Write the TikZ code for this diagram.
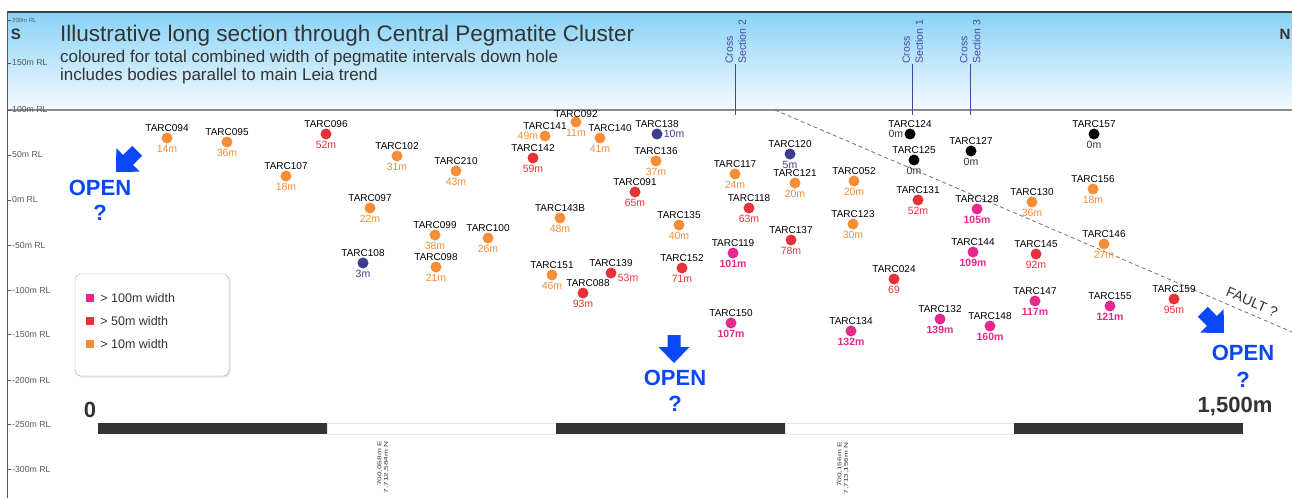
\documentclass[tikz,border=0pt]{standalone}
\usepackage{fontspec}
\setmainfont{Liberation Sans}
\usetikzlibrary{positioning,shadows}

\definecolor{orng}{RGB}{245,142,55}
\definecolor{rd}{RGB}{232,50,58}
\definecolor{pnk}{RGB}{230,40,140}
\definecolor{blu}{RGB}{60,60,145}
\definecolor{csblue}{RGB}{70,70,165}
\definecolor{openblue}{RGB}{10,70,250}
\definecolor{darkgr}{RGB}{51,51,51}
\definecolor{skytop}{RGB}{136,210,246}
\definecolor{skybot}{RGB}{246,251,255}

\begin{document}
\begin{tikzpicture}[x=1pt, y=-1pt,
    hole/.style={circle, minimum size=11pt, inner sep=0pt},
    every label/.style={inner sep=1pt, font=\fontsize{10}{12}\selectfont},
    vo/.style={text=orng, font=\fontsize{10.5}{12}\selectfont},
    vr/.style={text=rd, font=\fontsize{10.5}{12}\selectfont},
    vp/.style={text=pnk, font=\fontsize{10.5}{12}\selectfont\bfseries},
    vb/.style={text=blu, font=\fontsize{10.5}{12}\selectfont},
    vk/.style={text=darkgr, font=\fontsize{10.5}{12}\selectfont},
    rl/.style={anchor=west, inner sep=1pt, font=\fontsize{8.7}{10}\selectfont},
    cslbl/.style={rotate=90, anchor=west, align=left, inner sep=0pt, text=csblue, font=\fontsize{10.5}{13}\selectfont},
    opentxt/.style={text=openblue, font=\fontsize{22}{24}\selectfont\bfseries},
    bigtxt/.style={text=darkgr, font=\fontsize{22}{24}\selectfont\bfseries},
    key/.style={anchor=west, inner sep=0pt, text=darkgr, font=\fontsize{12.5}{14}\selectfont},
    gridref/.style={rotate=90, xscale=1.5, anchor=east, align=right, inner sep=0pt, text=darkgr, font=\fontsize{5.5}{6.5}\selectfont}]

    \useasboundingbox[fill=white] (0,0) rectangle (1292,498);

    % sky and frame
    \shade[top color=skytop, bottom color=skybot] (7,12) rectangle (1292,110);
    \draw[black!45, line width=1.5pt] (7,110) -- (1292,110);
    \draw[black!75, line width=1.3pt] (7,12) -- (1292,12);
    \draw[black!65, line width=1pt] (7,12) -- (7,498);

    % RL ticks
    \draw[black!65] (7,20) -- ++(4,0) node[rl, font=\fontsize{6}{7}\selectfont] (rl200) {200m RL};
    \draw[black!65] (7,63) -- ++(4,0) node[rl] (rl150) {150m RL};
    \draw[black!65] (7,110) -- ++(4,0) node[rl] (rl100) {100m RL};
    \draw[black!65] (7,155) -- ++(4,0) node[rl] (rl50) {50m RL};
    \draw[black!65] (7,200) -- ++(4,0) node[rl] (rl0) {0m RL};
    \draw[black!65] (7,245) -- ++(4,0) node[rl] (rlm50) {-50m RL};
    \draw[black!65] (7,290) -- ++(4,0) node[rl] (rlm100) {-100m RL};
    \draw[black!65] (7,334) -- ++(4,0) node[rl] (rlm150) {-150m RL};
    \draw[black!65] (7,380) -- ++(4,0) node[rl] (rlm200) {-200m RL};
    \draw[black!65] (7,424) -- ++(4,0) node[rl] (rlm250) {-250m RL};
    \draw[black!65] (7,469) -- ++(4,0) node[rl] (rlm300) {-300m RL};

    % titles
    \node[text=darkgr, font=\fontsize{15}{16}\selectfont\bfseries] (south) at (16,34) {S};
    \node[text=darkgr, font=\fontsize{15}{16}\selectfont\bfseries] (north) at (1285,34) {N};
    \node[anchor=base west, inner sep=0pt, text=darkgr, font=\fontsize{22.5}{24}\selectfont] (title) at (60,41) {Illustrative long section through Central Pegmatite Cluster};
    \node[anchor=base west, inner sep=0pt, text=darkgr, font=\fontsize{17}{18}\selectfont] (sub1) at (60,62) {coloured for total combined width of pegmatite intervals down hole};
    \node[anchor=base west, inner sep=0pt, text=darkgr, font=\fontsize{17}{18}\selectfont] (sub2) at (60,80) {includes bodies parallel to main Leia trend};

    % cross sections
    \node[cslbl] (cs2) at (735.7,64) {Cross\\Section 2};
    \node[cslbl] (cs1) at (912.7,64) {Cross\\Section 1};
    \node[cslbl] (cs3) at (970.3,64) {Cross\\Section 3};
    \coordinate (cs2b) at (735.7,115);
    \coordinate (cs1b) at (912.7,115);
    \coordinate (cs3b) at (970.3,115);
    \draw[csblue, line width=1.2pt] (cs2.west) -- (cs2b);
    \draw[csblue, line width=1.2pt] (cs1.west) -- (cs1b);
    \draw[csblue, line width=1.2pt] (cs3.west) -- (cs3b);

    % fault
    \draw[black!55, line width=0.8pt, dash pattern=on 4pt off 3pt] (775,110) -- (1292,332);
    \node[rotate=-23.2, text=darkgr, font=\fontsize{14}{16}\selectfont] (fault) at (1252,302) {FAULT ?};

    % > 10m
    \node[hole, fill=orng, label=above:TARC094, label={[vo]below:14m}] (t094) at (167,138) {};
    \node[hole, fill=orng, label=above:TARC095, label={[vo]below:36m}] (t095) at (227,142) {};
    \node[hole, fill=orng, label=above:TARC102, label={[vo]below:31m}] (t102) at (397,156) {};
    \node[hole, fill=orng, label=above:TARC107, label={[vo]below:18m}] (t107) at (286,176) {};
    \node[hole, fill=orng, label=above:TARC097, label={[vo]below:22m}] (t097) at (370,208) {};
    \node[hole, fill=orng, label=above:TARC210, label={[vo]below:43m}] (t210) at (456,171) {};
    \node[hole, fill=orng, label=above:TARC099, label={[vo]below:38m}] (t099) at (435,235) {};
    \node[hole, fill=orng, label=above:TARC098, label={[vo]below:21m}] (t098) at (436,267) {};
    \node[hole, fill=orng, label=above:TARC100, label={[vo]below:26m}] (t100) at (488,238) {};
    \node[hole, fill=orng, label=above:TARC141, label={[vo]left:49m}] (t141) at (545,136) {};
    \node[hole, fill=orng, label={[label distance=-2pt]above:TARC092}, label={[vo]below:11m}] (t092) at (576,122) {};
    \node[hole, fill=orng, label={[xshift=10pt]above:TARC140}, label={[vo]below:41m}] (t140) at (600,138) {};
    \node[hole, fill=orng, label=above:TARC136, label={[vo]below:37m}] (t136) at (656,161) {};
    \node[hole, fill=orng, label=above:TARC143B, label={[vo]below:48m}] (t143b) at (560,218) {};
    \node[hole, fill=orng, label=above:TARC151, label={[vo]below:46m}] (t151) at (552,275) {};
    \node[hole, fill=orng, label=above:TARC135, label={[vo]below:40m}] (t135) at (679,225) {};
    \node[hole, fill=orng, label=above:TARC117, label={[vo]below:24m}] (t117) at (735,174) {};
    \node[hole, fill=orng, label=above:TARC121, label={[vo]below:20m}] (t121) at (795,183) {};
    \node[hole, fill=orng, label=above:TARC052, label={[vo]below:20m}] (t052) at (854,181) {};
    \node[hole, fill=orng, label=above:TARC123, label={[vo]below:30m}] (t123) at (853,224) {};
    \node[hole, fill=orng, label=above:TARC130, label={[vo]below:36m}] (t130) at (1032,202) {};
    \node[hole, fill=orng, label=above:TARC156, label={[vo]below:18m}] (t156) at (1093,189) {};
    \node[hole, fill=orng, label=above:TARC146, label={[vo]below:27m}] (t146) at (1104,244) {};

    % > 50m
    \node[hole, fill=rd, label=above:TARC096, label={[vr]below:52m}] (t096) at (326,134) {};
    \node[hole, fill=rd, label=above:TARC142, label={[vr]below:59m}] (t142) at (533,158) {};
    \node[hole, fill=rd, label=above:TARC091, label={[vr]below:65m}] (t091) at (635,192) {};
    \node[hole, fill=rd, label=above:TARC118, label={[vr]below:63m}] (t118) at (749,208) {};
    \node[hole, fill=rd, label=above:TARC139, label={[vr, yshift=-5pt]right:53m}] (t139) at (611,273) {};
    \node[hole, fill=rd, label={[xshift=5pt]above:TARC088}, label={[vr]below:93m}] (t088) at (583,293) {};
    \node[hole, fill=rd, label=above:TARC152, label={[vr]below:71m}] (t152) at (682,268) {};
    \node[hole, fill=rd, label=above:TARC137, label={[vr]below:78m}] (t137) at (791,240) {};
    \node[hole, fill=rd, label=above:TARC131, label={[vr]below:52m}] (t131) at (918,200) {};
    \node[hole, fill=rd, label=above:TARC024, label={[vr]below:69}] (t024) at (894,279) {};
    \node[hole, fill=rd, label=above:TARC145, label={[vr]below:92m}] (t145) at (1036,254) {};
    \node[hole, fill=rd, label=above:TARC159, label={[vr]below:95m}] (t159) at (1174,299) {};

    % > 100m
    \node[hole, fill=pnk, label=above:TARC119, label={[vp]below:101m}] (t119) at (733,253) {};
    \node[hole, fill=pnk, label=above:TARC150, label={[vp]below:107m}] (t150) at (731,323) {};
    \node[hole, fill=pnk, label=above:TARC134, label={[vp]below:132m}] (t134) at (851,331) {};
    \node[hole, fill=pnk, label=above:TARC132, label={[vp]below:139m}] (t132) at (940,319) {};
    \node[hole, fill=pnk, label=above:TARC148, label={[vp]below:160m}] (t148) at (990,326) {};
    \node[hole, fill=pnk, label=above:TARC128, label={[vp]below:105m}] (t128) at (977,209) {};
    \node[hole, fill=pnk, label=above:TARC144, label={[vp]below:109m}] (t144) at (973,252) {};
    \node[hole, fill=pnk, label=above:TARC147, label={[vp]below:117m}] (t147) at (1035,301) {};
    \node[hole, fill=pnk, label=above:TARC155, label={[vp]below:121m}] (t155) at (1110,306) {};

    % small / none
    \node[hole, fill=blu, label=above:TARC108, label={[vb]below:3m}] (t108) at (363,263) {};
    \node[hole, fill=blu, label=above:TARC138, label={[vb]right:10m}] (t138) at (657,134) {};
    \node[hole, fill=blu, label=above:TARC120, label={[vb]below:5m}] (t120) at (790,154) {};
    \node[hole, fill=black, label=above:TARC124, label={[vk]left:0m}] (t124) at (910,134) {};
    \node[hole, fill=black, label=above:TARC125, label={[vk]below:0m}] (t125) at (914,160) {};
    \node[hole, fill=black, label=above:TARC127, label={[vk]below:0m}] (t127) at (971,151) {};
    \node[hole, fill=black, label=above:TARC157, label={[vk]below:0m}] (t157) at (1094,134) {};

    % open arrows
    \begin{scope}[shift={(116,172)}, rotate=-45]
    \fill[openblue] (0,0) -- (-16.5,-17) -- (-7,-17) -- (-7,-30) -- (7,-30) -- (7,-17) -- (16.5,-17) -- cycle;
    \end{scope}
    \begin{scope}[shift={(674,363)}]
    \fill[openblue] (0,0) -- (-15.5,-16) -- (-6.5,-16) -- (-6.5,-28) -- (6.5,-28) -- (6.5,-16) -- (15.5,-16) -- cycle;
    \end{scope}
    \begin{scope}[shift={(1224,333)}, rotate=45]
    \fill[openblue] (0,0) -- (-16.5,-17) -- (-7,-17) -- (-7,-30) -- (7,-30) -- (7,-17) -- (16.5,-17) -- cycle;
    \end{scope}

    \node[opentxt] (open1) at (100,188) {OPEN};
    \node[opentxt] (q1) at (100,213) {?};
    \node[opentxt] (open2) at (675,378) {OPEN};
    \node[opentxt] (q2) at (675,404) {?};
    \node[opentxt] (open3) at (1243,353) {OPEN};
    \node[opentxt] (q3) at (1243,380) {?};

    % legend
    \node[draw=black!35, fill=white, rounded corners=6pt, minimum width=154pt, minimum height=102pt,
          drop shadow={opacity=.2, shadow xshift=1.5pt, shadow yshift=-1.5pt}] (legend) at (152,325) {};
    \node[fill=pnk, minimum size=8pt, inner sep=0pt] (k100) at (90,298) {};
    \node[fill=rd, minimum size=8pt, inner sep=0pt] (k50) at (90,321) {};
    \node[fill=orng, minimum size=8pt, inner sep=0pt] (k10) at (90,344) {};
    \node[key, right=6pt of k100] (k100t) {> 100m width};
    \node[key, right=6pt of k50] (k50t) {> 50m width};
    \node[key, right=6pt of k10] (k10t) {> 10m width};

    % scale bar
    \fill[darkgr] (98,423) rectangle (327,434);
    \draw[black!10, fill=white] (327,423) rectangle (556,434);
    \fill[darkgr] (556,423) rectangle (785,434);
    \draw[black!10, fill=white] (785,423) rectangle (1014,434);
    \fill[darkgr] (1014,423) rectangle (1243,434);
    \node[bigtxt] (zero) at (90,410) {0};
    \node[bigtxt] (end) at (1235,407) {1,500m};

    \node[gridref] (ref1) at (383,441) {700,058m E\\7,712,584m N};
    \node[gridref] (ref2) at (843,442) {700,156m E\\7,713,156m N};

\end{tikzpicture}
\end{document}
